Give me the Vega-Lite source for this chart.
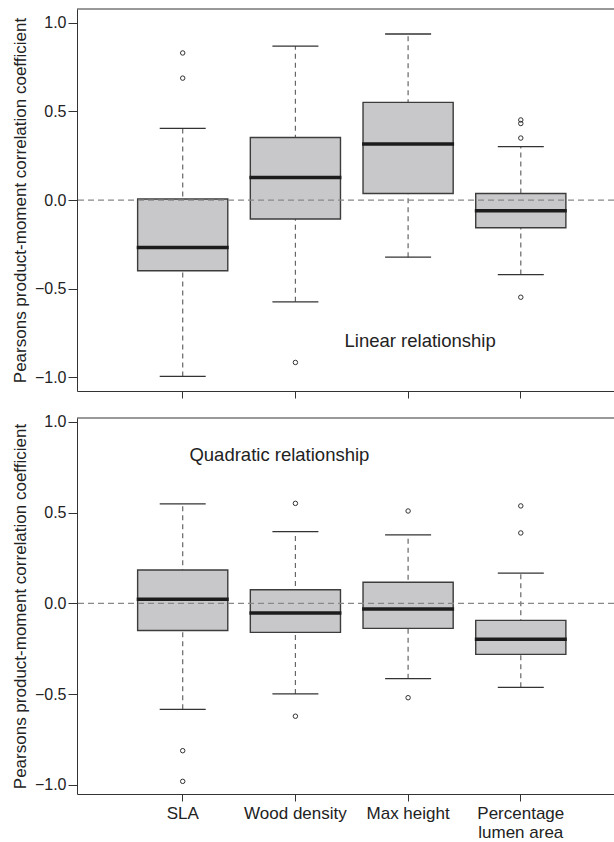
{
  "$schema": "https://vega.github.io/schema/vega-lite/v6.json",
  "padding": {"left": 11, "top": 8, "right": 0, "bottom": 0},
  "background": "white",
  "bounds": "flush",
  "spacing": 27,
  "config": {
    "view": {"stroke": "transparent", "strokeWidth": 0},
    "font": "Liberation Sans",
    "axis": {
      "grid": false,
      "domainColor": "#333333",
      "tickColor": "#333333",
      "labelColor": "#222222",
      "titleColor": "#222222",
      "labelFont": "Liberation Sans",
      "titleFont": "Liberation Sans",
      "titleFontWeight": "normal",
      "domainWidth": 1,
      "tickWidth": 1
    }
  },
  "datasets": {
    "stats": [
      {"model": "Linear", "trait": "SLA", "low": -0.995, "q1": -0.399, "median": -0.267, "q3": 0.006, "high": 0.404},
      {"model": "Linear", "trait": "Wood density", "low": -0.574, "q1": -0.107, "median": 0.128, "q3": 0.353, "high": 0.869},
      {"model": "Linear", "trait": "Max height", "low": -0.322, "q1": 0.037, "median": 0.316, "q3": 0.551, "high": 0.937},
      {"model": "Linear", "trait": "Percentage lumen area", "low": -0.42, "q1": -0.156, "median": -0.06, "q3": 0.037, "high": 0.302},
      {"model": "Quadratic", "trait": "SLA", "low": -0.584, "q1": -0.15, "median": 0.022, "q3": 0.184, "high": 0.548},
      {"model": "Quadratic", "trait": "Wood density", "low": -0.499, "q1": -0.16, "median": -0.053, "q3": 0.075, "high": 0.395},
      {"model": "Quadratic", "trait": "Max height", "low": -0.415, "q1": -0.138, "median": -0.031, "q3": 0.116, "high": 0.377},
      {"model": "Quadratic", "trait": "Percentage lumen area", "low": -0.463, "q1": -0.281, "median": -0.198, "q3": -0.094, "high": 0.167}
    ],
    "outliers": [
      {"model": "Linear", "trait": "SLA", "value": 0.83},
      {"model": "Linear", "trait": "SLA", "value": 0.688},
      {"model": "Linear", "trait": "Wood density", "value": -0.916},
      {"model": "Linear", "trait": "Percentage lumen area", "value": 0.452},
      {"model": "Linear", "trait": "Percentage lumen area", "value": 0.432},
      {"model": "Linear", "trait": "Percentage lumen area", "value": 0.35},
      {"model": "Linear", "trait": "Percentage lumen area", "value": -0.548},
      {"model": "Quadratic", "trait": "SLA", "value": -0.812},
      {"model": "Quadratic", "trait": "SLA", "value": -0.981},
      {"model": "Quadratic", "trait": "Wood density", "value": 0.551},
      {"model": "Quadratic", "trait": "Wood density", "value": -0.622},
      {"model": "Quadratic", "trait": "Max height", "value": 0.509},
      {"model": "Quadratic", "trait": "Max height", "value": -0.52},
      {"model": "Quadratic", "trait": "Percentage lumen area", "value": 0.537},
      {"model": "Quadratic", "trait": "Percentage lumen area", "value": 0.388}
    ]
  },
  "vconcat": [
    {
      "width": 537,
      "height": 382,
      "view": {"stroke": "transparent", "strokeWidth": 0},
      "layer": [
        {
          "data": {"name": "stats"},
          "transform": [{"filter": "datum.model == 'Linear'"}],
          "mark": {"type": "rule", "strokeDash": [5, 4], "color": "#666666", "strokeWidth": 1.2},
          "encoding": {
            "x": {
              "field": "trait", "type": "nominal",
              "scale": {"domain": ["SLA", "Wood density", "Max height", "Percentage lumen area"], "paddingInner": 0.2, "paddingOuter": 0.4825, "align": 0.5575},
              "axis": {"labels": false, "title": null, "tickSize": 7}
            },
            "y": {
              "field": "low", "type": "quantitative",
              "scale": {"domain": [-1.077, 1.078], "nice": false, "zero": false},
              "axis": {"values": [-1, -0.5, 0, 0.5, 1], "format": ".1f", "tickSize": 9, "labelPadding": 2, "labelFontSize": 16, "title": "Pearsons product-moment correlation coefficient", "titleFontSize": 17, "titlePadding": 5}
            },
            "y2": {"field": "high"}
          }
        },
        {
          "data": {"name": "stats"},
          "transform": [{"filter": "datum.model == 'Linear'"}],
          "mark": {"type": "tick", "size": 46, "thickness": 1.3, "color": "#333333", "opacity": 1},
          "encoding": {"x": {"field": "trait", "type": "nominal"}, "y": {"field": "low", "type": "quantitative"}}
        },
        {
          "data": {"name": "stats"},
          "transform": [{"filter": "datum.model == 'Linear'"}],
          "mark": {"type": "tick", "size": 46, "thickness": 1.3, "color": "#333333", "opacity": 1},
          "encoding": {"x": {"field": "trait", "type": "nominal"}, "y": {"field": "high", "type": "quantitative"}}
        },
        {
          "data": {"name": "stats"},
          "transform": [{"filter": "datum.model == 'Linear'"}],
          "mark": {"type": "bar", "fill": "#c8c8ca", "stroke": "#3c3c3c", "strokeWidth": 1.4},
          "encoding": {"x": {"field": "trait", "type": "nominal"}, "y": {"field": "q1", "type": "quantitative"}, "y2": {"field": "q3"}}
        },
        {
          "data": {"name": "stats"},
          "transform": [{"filter": "datum.model == 'Linear'"}],
          "mark": {"type": "tick", "size": 92, "thickness": 3.5, "color": "#1c1c1c", "opacity": 1},
          "encoding": {"x": {"field": "trait", "type": "nominal"}, "y": {"field": "median", "type": "quantitative"}}
        },
        {
          "data": {"name": "outliers"},
          "transform": [{"filter": "datum.model == 'Linear'"}],
          "mark": {"type": "point", "shape": "circle", "filled": false, "size": 20, "stroke": "#333333", "strokeWidth": 1, "opacity": 1},
          "encoding": {"x": {"field": "trait", "type": "nominal"}, "y": {"field": "value", "type": "quantitative"}}
        },
        {
          "data": {"values": [{}]},
          "mark": {"type": "rule", "strokeDash": [6, 4], "color": "#888888", "strokeWidth": 1.3},
          "encoding": {"y": {"datum": 0}}
        },
        {
          "data": {"values": [{}]},
          "mark": {"type": "rule", "color": "#333333", "strokeWidth": 1},
          "encoding": {"y": {"datum": 1.078}}
        },
        {
          "data": {"values": [{}]},
          "mark": {"type": "text", "fontSize": 18.5, "dx": 12, "color": "#222222", "align": "center", "baseline": "middle"},
          "encoding": {"x": {"datum": "Max height"}, "y": {"datum": -0.794}, "text": {"value": "Linear relationship"}}
        }
      ]
    },
    {
      "width": 537,
      "height": 376,
      "view": {"stroke": "transparent", "strokeWidth": 0},
      "layer": [
        {
          "data": {"name": "stats"},
          "transform": [{"filter": "datum.model == 'Quadratic'"}],
          "mark": {"type": "rule", "strokeDash": [5, 4], "color": "#666666", "strokeWidth": 1.2},
          "encoding": {
            "x": {
              "field": "trait", "type": "nominal",
              "scale": {"domain": ["SLA", "Wood density", "Max height", "Percentage lumen area"], "paddingInner": 0.2, "paddingOuter": 0.4825, "align": 0.5575},
              "axis": {"title": null, "tickSize": 7, "labelFontSize": 17, "labelPadding": 4, "labelAngle": 0, "labelLineHeight": 19, "labelExpr": "datum.value == 'Percentage lumen area' ? ['Percentage', 'lumen area'] : datum.value"}
            },
            "y": {
              "field": "low", "type": "quantitative",
              "scale": {"domain": [-1.0507, 1.0215], "nice": false, "zero": false},
              "axis": {"values": [-1, -0.5, 0, 0.5, 1], "format": ".1f", "tickSize": 9, "labelPadding": 2, "labelFontSize": 16, "title": "Pearsons product-moment correlation coefficient", "titleFontSize": 17, "titlePadding": 5}
            },
            "y2": {"field": "high"}
          }
        },
        {
          "data": {"name": "stats"},
          "transform": [{"filter": "datum.model == 'Quadratic'"}],
          "mark": {"type": "tick", "size": 46, "thickness": 1.3, "color": "#333333", "opacity": 1},
          "encoding": {"x": {"field": "trait", "type": "nominal"}, "y": {"field": "low", "type": "quantitative"}}
        },
        {
          "data": {"name": "stats"},
          "transform": [{"filter": "datum.model == 'Quadratic'"}],
          "mark": {"type": "tick", "size": 46, "thickness": 1.3, "color": "#333333", "opacity": 1},
          "encoding": {"x": {"field": "trait", "type": "nominal"}, "y": {"field": "high", "type": "quantitative"}}
        },
        {
          "data": {"name": "stats"},
          "transform": [{"filter": "datum.model == 'Quadratic'"}],
          "mark": {"type": "bar", "fill": "#c8c8ca", "stroke": "#3c3c3c", "strokeWidth": 1.4},
          "encoding": {"x": {"field": "trait", "type": "nominal"}, "y": {"field": "q1", "type": "quantitative"}, "y2": {"field": "q3"}}
        },
        {
          "data": {"name": "stats"},
          "transform": [{"filter": "datum.model == 'Quadratic'"}],
          "mark": {"type": "tick", "size": 92, "thickness": 3.5, "color": "#1c1c1c", "opacity": 1},
          "encoding": {"x": {"field": "trait", "type": "nominal"}, "y": {"field": "median", "type": "quantitative"}}
        },
        {
          "data": {"name": "outliers"},
          "transform": [{"filter": "datum.model == 'Quadratic'"}],
          "mark": {"type": "point", "shape": "circle", "filled": false, "size": 20, "stroke": "#333333", "strokeWidth": 1, "opacity": 1},
          "encoding": {"x": {"field": "trait", "type": "nominal"}, "y": {"field": "value", "type": "quantitative"}}
        },
        {
          "data": {"values": [{}]},
          "mark": {"type": "rule", "strokeDash": [6, 4], "color": "#888888", "strokeWidth": 1.3},
          "encoding": {"y": {"datum": 0}}
        },
        {
          "data": {"values": [{}]},
          "mark": {"type": "rule", "color": "#333333", "strokeWidth": 1},
          "encoding": {"y": {"datum": 1.0215}}
        },
        {
          "data": {"values": [{}]},
          "mark": {"type": "text", "fontSize": 18.5, "dx": -16, "color": "#222222", "align": "center", "baseline": "middle"},
          "encoding": {"x": {"datum": "Wood density"}, "y": {"datum": 0.819}, "text": {"value": "Quadratic relationship"}}
        }
      ]
    }
  ]
}
